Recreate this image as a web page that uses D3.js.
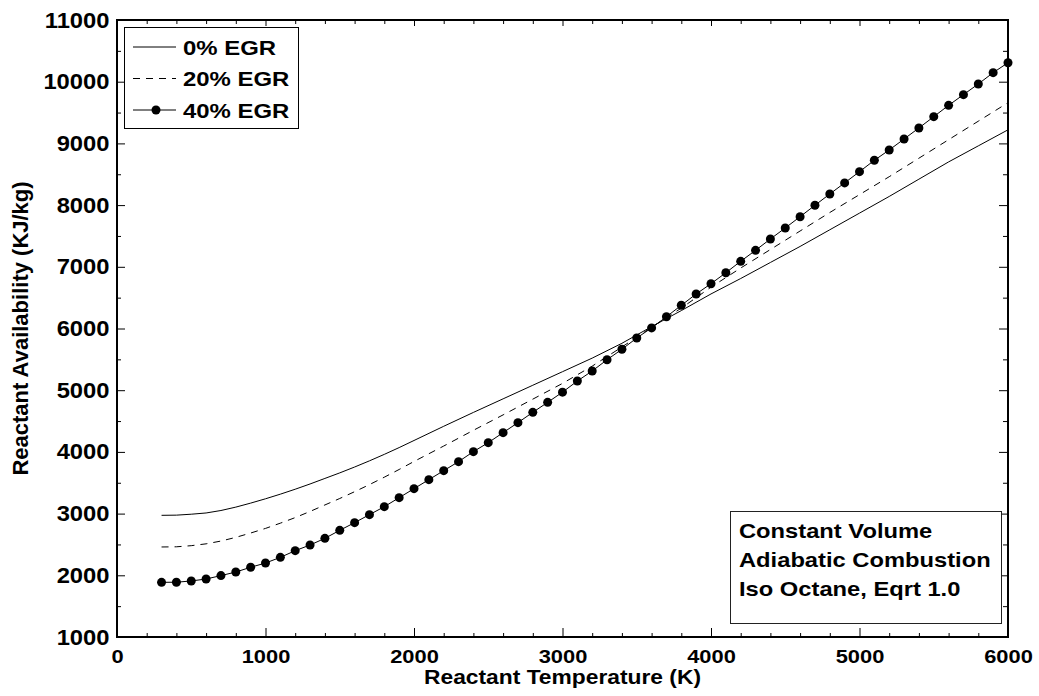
<!DOCTYPE html>
<html>
<head>
<meta charset="utf-8">
<script src="https://cdn.jsdelivr.net/npm/d3@7"></script>
<style>
  body { margin: 0; background: #fff; }
  text { font-family: "Liberation Sans", Arial, sans-serif; font-weight: bold; fill: #000; }
</style>
</head>
<body>
<script>
// reactant temperature (K) for the plain lines
let tempLines = [300, 400, 500, 600, 700, 800, 900, 1000, 1100, 1200, 1300, 1400, 1500, 1600, 1700, 1800, 1900, 2000,
                 2200, 2400, 2600, 2800, 3000, 3200, 3400, 3600, 3800, 4000, 4200, 4400, 4600, 4800, 5000, 5200, 5400, 5600, 5800, 6000];

// reactant availability (KJ/kg)
let egr0 = [2972, 2975, 2990, 3010, 3050, 3105, 3170, 3240, 3315, 3395, 3480, 3570, 3660, 3755, 3855, 3960, 4070, 4185,
            4415, 4640, 4860, 5080, 5300, 5520, 5760, 6030, 6290, 6560, 6810, 7070, 7330, 7600, 7870, 8140, 8420, 8700, 8960, 9220];
let egr20 = [2459, 2462, 2480, 2510, 2555, 2615, 2685, 2760, 2845, 2935, 3035, 3140, 3245, 3355, 3470, 3590, 3715, 3845,
             4095, 4350, 4600, 4855, 5110, 5390, 5700, 6020, 6330, 6670, 6980, 7280, 7580, 7880, 8170, 8460, 8760, 9060, 9360, 9660];

// the marked series has a point every 100 K
let tempMarks = [300, 400, 500, 600, 700, 800, 900, 1000, 1100, 1200, 1300, 1400, 1500, 1600, 1700, 1800, 1900, 2000,
                 2100, 2200, 2300, 2400, 2500, 2600, 2700, 2800, 2900, 3000, 3100, 3200, 3300, 3400, 3500, 3600, 3700, 3800,
                 3900, 4000, 4100, 4200, 4300, 4400, 4500, 4600, 4700, 4800, 4900, 5000, 5100, 5200, 5300, 5400, 5500, 5600,
                 5700, 5800, 5900, 6000];
let egr40 = [1886, 1888, 1908, 1940, 1995, 2053, 2130, 2199, 2291, 2399, 2491, 2599, 2729, 2853, 2983, 3112, 3258, 3404,
             3550, 3696, 3842, 4004, 4150, 4312, 4474, 4641, 4803, 4968, 5149, 5311, 5494, 5663, 5846, 6010, 6191, 6376,
             6559, 6726, 6904, 7089, 7267, 7451, 7629, 7812, 7997, 8180, 8360, 8542, 8726, 8893, 9071, 9250, 9433, 9617,
             9790, 9963, 10146, 10308];

let legendLabels = ["0% EGR", "20% EGR", "40% EGR"];
let noteLines = ["Constant Volume", "Adiabatic Combustion", "Iso Octane, Eqrt 1.0"];

let xMajor = [0, 1000, 2000, 3000, 4000, 5000, 6000];
let xMinor = [200, 400, 600, 800, 1200, 1400, 1600, 1800, 2200, 2400, 2600, 2800, 3200, 3400, 3600, 3800,
              4200, 4400, 4600, 4800, 5200, 5400, 5600, 5800];
let yMajor = [1000, 2000, 3000, 4000, 5000, 6000, 7000, 8000, 9000, 10000, 11000];
let yMinor = [1500, 2500, 3500, 4500, 5500, 6500, 7500, 8500, 9500, 10500];

let plotLeft = 117, plotRight = 1008, plotTop = 20, plotBottom = 637;

let svg = d3.select("body")
            .append("svg")
            .attr("width", 1039)
            .attr("height", 696);

let x = d3.scaleLinear().domain([0, 6000]).range([plotLeft, plotRight]);
let y = d3.scaleLinear().domain([1000, 11000]).range([plotBottom, plotTop]);

// helper: ticks pointing inside the box, no labels
let addTicks = (axis, pos, values, size) => {
    svg.append("g")
        .attr("transform", pos)
        .call(axis.tickValues(values).tickSize(size).tickSizeOuter(0).tickFormat(""))
        .call(g => g.select(".domain").remove())
        .call(g => g.selectAll("line").attr("stroke", "#000").attr("stroke-width", 1));
};

addTicks(d3.axisBottom(x), `translate(0,${plotBottom})`, xMinor, -4);
addTicks(d3.axisTop(x), `translate(0,${plotTop})`, xMinor, -4);
addTicks(d3.axisTop(x), `translate(0,${plotTop})`, xMajor, -6);
addTicks(d3.axisLeft(y), `translate(${plotLeft},0)`, yMinor, -4);
addTicks(d3.axisRight(y), `translate(${plotRight},0)`, yMinor, -5);
addTicks(d3.axisRight(y), `translate(${plotRight},0)`, yMajor, -9);

// labelled axes (labels a bit wider than plain Arial, as in the original)
svg.append("g")
    .attr("transform", `translate(0,${plotBottom})`)
    .call(d3.axisBottom(x).tickValues(xMajor).tickSize(-9).tickSizeOuter(0).tickPadding(13).tickFormat(d3.format("d")))
    .call(g => g.select(".domain").remove())
    .call(g => g.selectAll("line").attr("stroke", "#000"))
    .call(g => g.selectAll("text")
        .attr("font-size", 19)
        .attr("font-family", "Liberation Sans, Arial, sans-serif")
        .attr("font-weight", "bold")
        .attr("transform", "scale(1.15,1)"));

svg.append("g")
    .attr("transform", `translate(${plotLeft},0)`)
    .call(d3.axisLeft(y).tickValues(yMajor).tickSize(-8).tickSizeOuter(0).tickPadding(7).tickFormat(d3.format("d")))
    .call(g => g.select(".domain").remove())
    .call(g => g.selectAll("line").attr("stroke", "#000"))
    .call(g => g.selectAll("text")
        .attr("font-size", 22)
        .attr("font-family", "Liberation Sans, Arial, sans-serif")
        .attr("font-weight", "bold")
        .attr("transform", "scale(1.08,1)"));

// frame
svg.append("rect")
    .attr("x", plotLeft)
    .attr("y", plotTop)
    .attr("width", plotRight - plotLeft)
    .attr("height", plotBottom - plotTop)
    .attr("fill", "none")
    .attr("stroke", "#000")
    .attr("stroke-width", 2);

let line = d3.line()
             .x(d => x(d[0]))
             .y(d => y(d[1]));

svg.append("path")
    .datum(d3.zip(tempLines, egr0))
    .attr("d", line)
    .attr("fill", "none")
    .attr("stroke", "#000")
    .attr("stroke-width", 1);

svg.append("path")
    .datum(d3.zip(tempLines, egr20))
    .attr("d", line)
    .attr("fill", "none")
    .attr("stroke", "#000")
    .attr("stroke-width", 1)
    .attr("stroke-dasharray", "7,6");

let marked = d3.zip(tempMarks, egr40);

svg.append("path")
    .datum(marked)
    .attr("d", line)
    .attr("fill", "none")
    .attr("stroke", "#000")
    .attr("stroke-width", 1);

svg.selectAll("circle.mark")
    .data(marked)
    .enter()
    .append("circle")
        .attr("class", "mark")
        .attr("cx", d => x(d[0]))
        .attr("cy", d => y(d[1]))
        .attr("r", 4.5)
        .attr("fill", "#000");

// legend
let legend = svg.append("g");
legend.append("rect")
    .attr("x", 124.5)
    .attr("y", 27.5)
    .attr("width", 174)
    .attr("height", 101)
    .attr("fill", "#fff")
    .attr("stroke", "#000")
    .attr("stroke-width", 1);

let dashes = [null, "7,6", null];
legendLabels.forEach((label, i) => {
    let ly = 47 + i * 31.5;
    legend.append("line")
        .attr("x1", 133).attr("x2", 176)
        .attr("y1", ly).attr("y2", ly)
        .attr("stroke", "#000")
        .attr("stroke-dasharray", dashes[i]);
    if (i == 2) {
        legend.append("circle")
            .attr("cx", 156).attr("cy", ly)
            .attr("r", 4.5)
            .attr("fill", "#000");
    }
    legend.append("text")
        .attr("transform", `translate(183,${ly + 7.5}) scale(1.14,1)`)
        .attr("font-size", 21)
        .text(label);
});

// note box, lower right
svg.append("rect")
    .attr("x", 730.5)
    .attr("y", 511.5)
    .attr("width", 271)
    .attr("height", 112)
    .attr("fill", "#fff")
    .attr("stroke", "#222")
    .attr("stroke-width", 1);

noteLines.forEach((t, i) => {
    svg.append("text")
        .attr("transform", `translate(739,${538 + i * 29}) scale(1.13,1)`)
        .attr("font-size", 21)
        .text(t);
});

// axis titles
svg.append("text")
    .attr("transform", `translate(${(plotLeft + plotRight) / 2},684) scale(1.14,1)`)
    .attr("text-anchor", "middle")
    .attr("font-size", 20)
    .text("Reactant Temperature (K)");

svg.append("text")
    .attr("transform", `translate(28,${(plotTop + plotBottom) / 2}) rotate(-90)`)
    .attr("text-anchor", "middle")
    .attr("font-size", 22)
    .text("Reactant Availability (KJ/kg)");
</script>
</body>
</html>
